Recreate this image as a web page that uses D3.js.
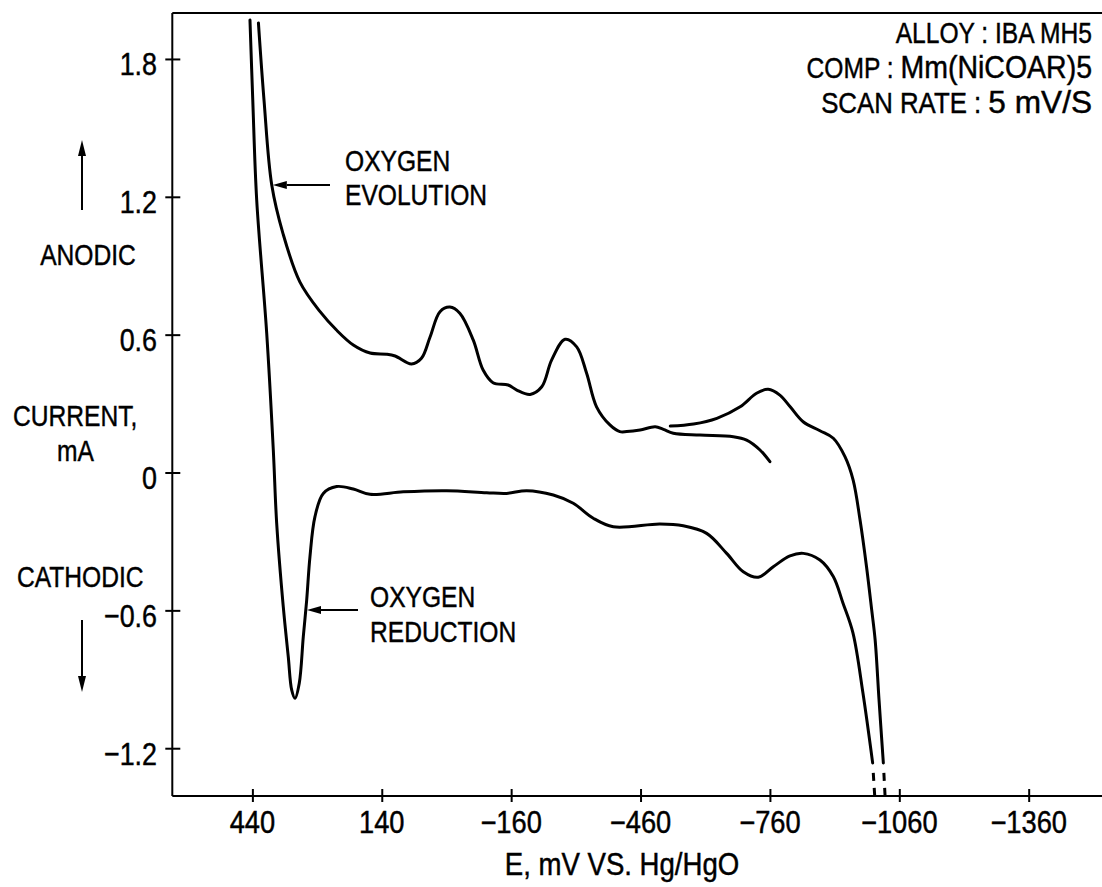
<!DOCTYPE html>
<html>
<head>
<meta charset="utf-8">
<script src="https://cdn.jsdelivr.net/npm/d3@7"></script>
<style>
  html, body { margin: 0; padding: 0; background: #fff; }
  svg { display: block; }
</style>
</head>
<body>
<svg id="chart" width="1102" height="887"></svg>
<script>
// ---------------- DATA ----------------
const xTickValues = [440, 140, -160, -460, -760, -1060, -1360];
const xTickLabels = ["440", "140", "\u2212160", "\u2212460", "\u2212760", "\u22121060", "\u22121360"];
const yTickValues = [1.8, 1.2, 0.6, 0, -0.6, -1.2];
const yTickLabels = ["1.8", "1.2", "0.6", "0", "\u22120.6", "\u22121.2"];

// upper (anodic) branch, from top-left down to its end near -760 mV
const upperE = [426, 413, 395, 369, 330, 283, 245, 206, 167, 129, 109, 71, 48, 28, 5, -18, -41, -72, -95, -118, -153, -173, -204, -231, -254, -285, -312, -335, -358, -389, -412, -428, -459, -494, -513, -536, -598, -675, -706, -737, -760];
const upperI = [1.957, 1.62, 1.25, 1.04, 0.83, 0.70, 0.62, 0.555, 0.52, 0.515, 0.507, 0.472, 0.497, 0.59, 0.70, 0.72, 0.693, 0.577, 0.446, 0.391, 0.381, 0.359, 0.340, 0.373, 0.490, 0.580, 0.547, 0.432, 0.286, 0.207, 0.178, 0.178, 0.185, 0.199, 0.188, 0.171, 0.163, 0.156, 0.141, 0.098, 0.047];

// second anodic branch starting near -530 mV and falling at the cathodic end
const rightE = [-529, -583, -637, -691, -729, -756, -783, -807, -837, -876, -907, -934, -953, -969, -984, -996, -1004, -1013, -1023];
const rightI = [0.202, 0.211, 0.236, 0.286, 0.345, 0.362, 0.337, 0.286, 0.221, 0.182, 0.149, 0.069, -0.033, -0.207, -0.410, -0.598, -0.729, -0.990, -1.264];

// lower (cathodic) branch, from top-left through oxygen reduction to the cathodic end
const lowerE = [445.6, 439.1, 430.0, 406.8, 391.5, 383.7, 368.4, 356.8, 348.9, 341.2, 331.3, 322.0, 314.1, 306.5, 294.9, 275.6, 244.5, 206, 167.3, 90.1, -10.5, -103.3, -149.6, -196, -257.7, -304, -350.4, -396.8, -505, -559, -613.3, -659.7, -698.2, -733, -767.8, -806.5, -837.3, -876, -906.9, -929.3, -952.5, -975.7, -998.2];
const lowerI = [1.969, 1.621, 1.186, 0.607, 0.098, -0.220, -0.584, -0.802, -0.946, -0.983, -0.917, -0.715, -0.555, -0.366, -0.192, -0.091, -0.061, -0.072, -0.095, -0.084, -0.079, -0.088, -0.091, -0.079, -0.098, -0.134, -0.199, -0.236, -0.224, -0.232, -0.265, -0.352, -0.432, -0.456, -0.410, -0.363, -0.352, -0.381, -0.453, -0.568, -0.698, -0.960, -1.264];

// dashed continuations below the last drawn point
const dashLowerE = [-998.2, -1003];
const dashRightE = [-1023, -1027];
const dashI = [-1.264, -1.408];

const infoLines = [["ALLOY : IBA MH5", ""], ["COMP : ", "Mm(NiCOAR)5"], ["SCAN RATE : ", "5 mV/S"]];
const xTitle = "E, mV VS. Hg/HgO";

(function () {
// ---------------- LAYOUT ----------------
const svg = d3.select("#chart");
const mLeft = 172.3, mRight = 1102, mTop = 13, mBottom = 796;

const x = d3.scaleLinear().domain([625.7, -1530]).range([mLeft, mRight]);
const y = d3.scaleLinear().domain([-1.408, 2.0]).range([mBottom, mTop]);

const family = "'Liberation Sans', Arial, Helvetica, sans-serif";

function label(tx, ty, str, anchor, size, sx) {
  return svg.append("text")
    .attr("transform", `translate(${tx},${ty}) scale(${sx},1)`)
    .attr("text-anchor", anchor)
    .attr("font-family", family)
    .attr("font-size", size)
    .attr("fill", "#000")
    .attr("stroke", "#000")
    .attr("stroke-width", 0.45)
    .text(str);
}

const frame = svg.append("g").attr("stroke", "#000").attr("stroke-width", 2).attr("fill", "none");
frame.append("line").attr("x1", mLeft).attr("x2", mLeft).attr("y1", mTop).attr("y2", mBottom);
frame.append("line").attr("x1", mLeft).attr("x2", mRight).attr("y1", mBottom).attr("y2", mBottom);
frame.append("line").attr("x1", mLeft).attr("x2", mRight).attr("y1", mTop).attr("y2", mTop);

const yAxis = svg.append("g").attr("transform", `translate(${mLeft},0)`)
  .call(d3.axisLeft(y).tickValues(yTickValues).tickSize(7).tickFormat(""));
yAxis.select(".domain").remove();
yAxis.selectAll(".tick line").attr("x1", 8).attr("x2", -7).attr("stroke", "#000").attr("stroke-width", 2);
yTickValues.forEach((v, i) => label(157, y(v) + 16.5, yTickLabels[i], "end", 32, 0.84));

const xAxis = svg.append("g").attr("transform", `translate(0,${mBottom})`)
  .call(d3.axisBottom(x).tickValues(xTickValues).tickSize(6).tickFormat(""));
xAxis.select(".domain").remove();
xAxis.selectAll(".tick line").attr("y1", -7).attr("y2", 6).attr("stroke", "#000").attr("stroke-width", 2);
xTickValues.forEach((v, i) => label(x(v), 833, xTickLabels[i], "middle", 31, 0.88));

label(622, 875, xTitle, "middle", 31, 0.89);

const line = d3.line().x(d => x(d[0])).y(d => y(d[1])).curve(d3.curveCatmullRom.alpha(0.5));
const curves = svg.append("g").attr("fill", "none").attr("stroke", "#000").attr("stroke-width", 3)
  .attr("stroke-linejoin", "round").attr("stroke-linecap", "round");
curves.append("path").attr("d", line(d3.zip(upperE, upperI)));
curves.append("path").attr("d", line(d3.zip(rightE, rightI)));
curves.append("path").attr("d", line(d3.zip(lowerE, lowerI)));

const straight = d3.line().x(d => x(d[0])).y(d => y(d[1]));
const dashes = svg.append("g").attr("fill", "none").attr("stroke", "#000").attr("stroke-width", 3)
  .attr("stroke-dasharray", "0,10,8,7,8,40");
dashes.append("path").attr("d", straight(d3.zip(dashLowerE, dashI)));
dashes.append("path").attr("d", straight(d3.zip(dashRightE, dashI)));

function arrow(x1, y1, x2, y2, headLen, headW) {
  const ang = Math.atan2(y2 - y1, x2 - x1);
  const bx = x2 - headLen * Math.cos(ang), by = y2 - headLen * Math.sin(ang);
  svg.append("line").attr("x1", x1).attr("y1", y1).attr("x2", bx).attr("y2", by)
    .attr("stroke", "#000").attr("stroke-width", 2);
  const px = -Math.sin(ang) * headW / 2, py = Math.cos(ang) * headW / 2;
  svg.append("path")
    .attr("d", `M${x2},${y2}L${bx + px},${by + py}L${bx - px},${by - py}Z`)
    .attr("fill", "#000");
}

arrow(82, 210, 82, 140, 16, 8);
label(88, 265, "ANODIC", "middle", 30, 0.82);
label(13, 426, "CURRENT,", "start", 30, 0.82);
label(57, 461, "mA", "start", 30, 0.82);
label(17, 587, "CATHODIC", "start", 30, 0.82);
arrow(82, 620, 82, 692, 16, 8);

arrow(330, 185, x(upperE[2]) + 1, 185, 14, 8);
label(345, 171, "OXYGEN", "start", 30, 0.82);
label(345, 205, "EVOLUTION", "start", 30, 0.82);

arrow(358, 610, 307, 610, 14, 8);
label(370, 607, "OXYGEN", "start", 30, 0.82);
label(370, 642, "REDUCTION", "start", 30, 0.82);

// info block (right-aligned; second part of a line set a little larger/wider)
const partStyle = [[30, 0.82, 30, 0.82], [30, 0.82, 31, 0.92], [30, 0.86, 31, 1.02]];
infoLines.forEach((parts, i) => {
  const by = 43 + i * 35;
  const st = partStyle[i];
  let w2 = 0;
  if (parts[1]) {
    const t2 = label(1092, by, parts[1], "end", st[2], st[3]);
    w2 = t2.node().getComputedTextLength() * st[3];
  }
  label(1092 - w2, by, parts[0].replace(/ $/, "\u00a0"), "end", st[0], st[1]);
});
})();
</script>
</body>
</html>
